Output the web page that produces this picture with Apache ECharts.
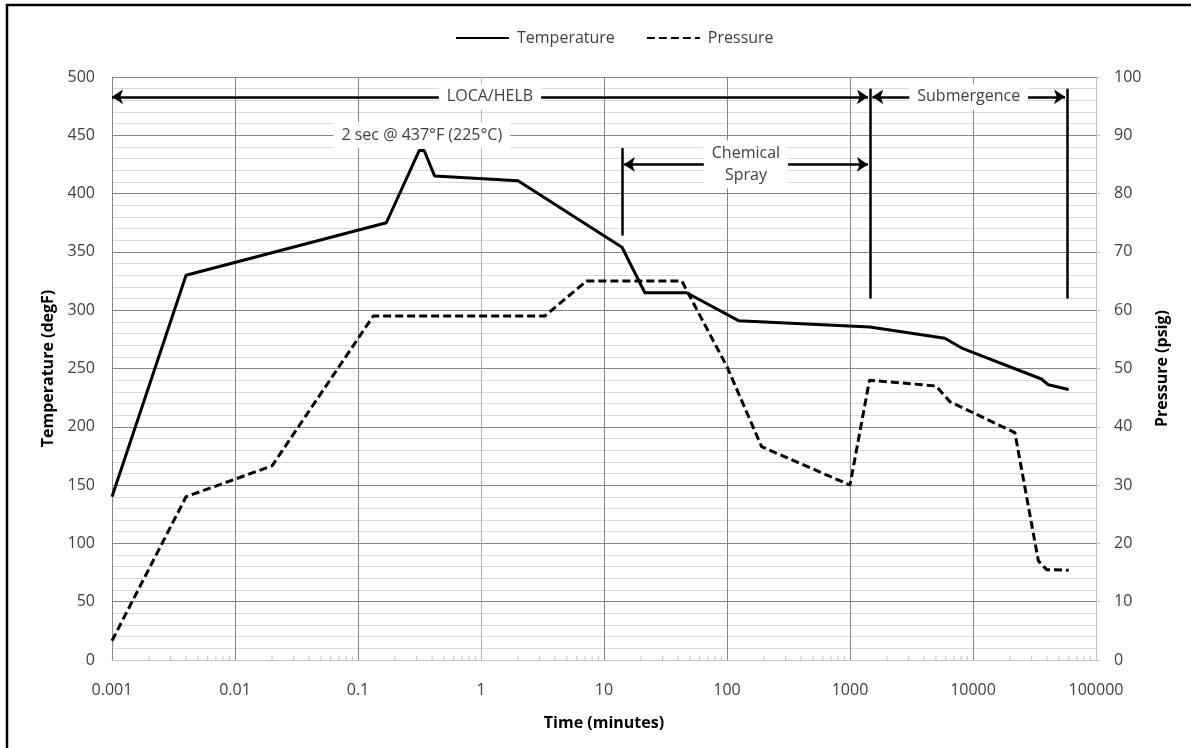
<!DOCTYPE html>
<html>
<head>
<meta charset="utf-8">
<script src="https://cdn.jsdelivr.net/npm/echarts@6/dist/echarts.min.js"></script>
<style>
  html, body { margin: 0; padding: 0; background: #fff; }
  #chart { width: 1191px; height: 748px; }
</style>
</head>
<body>
<div id="chart"></div>
<script>
  var FONT = '"Open Sans", sans-serif';
  var TEXT = '#404040';
  var MAJOR = '#868686';
  var MINOR = '#d9d9d9';
  var AXIS = '#bfbfbf';

  // temperature profile (time in minutes, degF)
  var TEMP_TIME = [0.001, 0.004, 0.17, 0.315, 0.345, 0.42, 2, 14, 21.5, 47, 124, 1450, 5900, 8300, 36000, 41000, 60000];
  var TEMP_VAL = [140, 330, 375, 437, 437, 415, 411, 354, 315, 315, 291, 285.5, 276, 267, 241, 236, 232];

  // pressure profile (time in minutes, psig)
  var PRESS_TIME = [0.001, 0.004, 0.02, 0.133, 3.3, 7.2, 43, 47, 100, 191, 1000, 1440, 5000, 6500, 21900, 34000, 39700, 60000];
  var PRESS_VAL = [3.3, 28, 33.3, 59, 59, 65, 65, 63.4, 50.3, 36.6, 30, 48, 47, 44.3, 39, 17, 15.5, 15.4];

  // phase annotations, in minutes / degF
  var PHASE_ARROWS = [
    { name: 'LOCA/HELB', from: 0.001, to: 1400, at: 483 },
    { name: 'Submergence', from: 1520, to: 56000, at: 483 },
    { name: 'Chemical\nSpray', from: 14.5, to: 1400, at: 425 }
  ];
  var PHASE_BOUNDS = [
    { time: 1450, low: 310, high: 490 },
    { time: 58500, low: 310, high: 490 },
    { time: 14, low: 364, high: 439 }
  ];
  var PEAK_NOTE = { text: '2 sec @ 437°F (225°C)', time: 0.33, at: 450 };

  function pairs(xs, ys) {
    return xs.map(function (x, i) { return [x, ys[i]]; });
  }

  // minor log ticks 2..9 in every decade
  var minorTicks = [];
  for (var d = -3; d < 5; d++) {
    for (var m = 2; m < 10; m++) minorTicks.push([+(m * Math.pow(10, d)).toPrecision(3)]);
  }

  var labelBox = {
    show: true,
    position: 'insideMiddle',
    distance: 0,
    verticalAlign: 'middle',
    color: TEXT,
    fontFamily: FONT,
    fontSize: 16,
    lineHeight: 22,
    backgroundColor: '#fff',
    padding: [2, 8]
  };

  var markData = [];
  PHASE_ARROWS.forEach(function (a) {
    markData.push([
      { coord: [a.from, a.at], symbol: 'arrow', label: Object.assign({}, labelBox, { formatter: a.name }) },
      { coord: [a.to, a.at], symbol: 'arrow' }
    ]);
  });
  PHASE_BOUNDS.forEach(function (b) {
    markData.push([
      { coord: [b.time, b.low], symbol: 'none', label: { show: false } },
      { coord: [b.time, b.high], symbol: 'none' }
    ]);
  });

  var chart = echarts.init(document.getElementById('chart'), null, { renderer: 'canvas' });

  chart.setOption({
    backgroundColor: '#fff',
    animation: false,
    textStyle: { fontFamily: FONT, color: TEXT },
    graphic: [{
      type: 'rect',
      shape: { x: 7, y: 5, width: 1200, height: 800 },
      style: { fill: 'none', stroke: '#000', lineWidth: 2.5 },
      silent: true
    }],
    legend: {
      top: 25,
      left: 450,
      itemWidth: 53,
      itemHeight: 14,
      itemGap: 31,
      itemStyle: { opacity: 0 },
      data: ['Temperature', 'Pressure'],
      textStyle: { fontFamily: FONT, fontSize: 16, color: TEXT, padding: [0, 0, 0, 3] }
    },
    grid: { left: 112, right: 95, top: 77, bottom: 88 },
    xAxis: {
      type: 'log',
      logBase: 10,
      min: 0.001,
      max: 100000,
      splitNumber: 8,
      name: 'Time (minutes)',
      nameLocation: 'middle',
      nameGap: 55,
      nameTextStyle: { fontFamily: FONT, fontSize: 16, fontWeight: 'bold', color: '#000' },
      axisLine: { show: true, lineStyle: { color: AXIS, width: 1 } },
      axisTick: { show: false },
      axisLabel: {
        margin: 22,
        fontSize: 16,
        color: TEXT,
        formatter: function (v) { return String(+v.toPrecision(6)); }
      },
      splitLine: {
        show: true,
        showMinLine: true,
        showMaxLine: false,
        lineStyle: { color: [MAJOR, MAJOR, MAJOR, '#b0b0b0', MAJOR, MAJOR, MAJOR, MAJOR, MAJOR], width: 1 }
      }
    },
    yAxis: [{
      type: 'value',
      min: 0,
      max: 500,
      interval: 50,
      name: 'Temperature (degF)',
      nameLocation: 'middle',
      nameGap: 56,
      nameTextStyle: { fontFamily: FONT, fontSize: 16, fontWeight: 'bold', color: '#000' },
      axisLine: { show: false },
      axisTick: { show: false },
      axisLabel: { margin: 17, fontSize: 16, color: TEXT },
      splitLine: { show: true, showMinLine: false, lineStyle: { color: MAJOR, width: 1 } },
      minorTick: { show: false, splitNumber: 5 },
      minorSplitLine: { show: true, lineStyle: { color: MINOR, width: 1 } }
    }, {
      type: 'value',
      min: 0,
      max: 100,
      interval: 10,
      name: 'Pressure (psig)',
      nameLocation: 'middle',
      nameGap: 58,
      nameTextStyle: { fontFamily: FONT, fontSize: 16, fontWeight: 'bold', color: '#000' },
      axisLine: { show: true, lineStyle: { color: AXIS, width: 1 } },
      axisTick: { show: true, inside: false, length: 4, lineStyle: { color: AXIS } },
      axisLabel: { margin: 18, fontSize: 16, color: TEXT },
      splitLine: { show: false }
    }],
    series: [{
      name: 'minor ticks',
      type: 'custom',
      xAxisIndex: 0,
      yAxisIndex: 0,
      silent: true,
      z: 1,
      data: minorTicks,
      renderItem: function (params, api) {
        var p = api.coord([api.value(0), 0]);
        return {
          type: 'line',
          shape: { x1: p[0], y1: p[1], x2: p[0], y2: p[1] - 4 },
          style: { stroke: AXIS, lineWidth: 1 }
        };
      }
    }, {
      name: 'Temperature',
      type: 'line',
      yAxisIndex: 0,
      symbol: 'none',
      z: 3,
      lineStyle: { color: '#000', width: 3 },
      itemStyle: { color: '#000' },
      data: pairs(TEMP_TIME, TEMP_VAL),
      markLine: {
        silent: true,
        animation: false,
        symbolSize: 11,
        lineStyle: { color: '#000', width: 2.5, type: 'solid' },
        label: { show: false },
        emphasis: { disabled: true },
        data: markData
      },
      markPoint: {
        silent: true,
        animation: false,
        symbol: 'rect',
        symbolSize: 0,
        data: [{
          coord: [PEAK_NOTE.time, PEAK_NOTE.at],
          label: Object.assign({}, labelBox, { position: 'inside', formatter: PEAK_NOTE.text })
        }]
      }
    }, {
      name: 'Pressure',
      type: 'line',
      yAxisIndex: 1,
      symbol: 'none',
      z: 3,
      lineStyle: { color: '#000', width: 3, type: [8, 4] },
      itemStyle: { color: '#000' },
      data: pairs(PRESS_TIME, PRESS_VAL)
    }]
  });
</script>
</body>
</html>
